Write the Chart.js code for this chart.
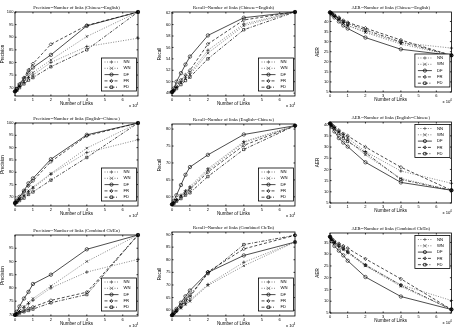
<!DOCTYPE html>
<html>
<head>
<meta charset="utf-8">
<script src="https://cdn.jsdelivr.net/npm/chart.js@4/dist/chart.umd.min.js"></script>
<style>
  html, body { margin: 0; padding: 0; background: #fff; }
  #wrap { position: relative; width: 456px; height: 330px; overflow: hidden; }
  #wrap canvas { position: absolute; }
</style>
</head>
<body>
<div id="wrap"></div>
<script>
// number of links, in units of 10^4
var LINKS = [0, 0.1, 0.25, 0.5, 0.75, 1, 2, 4, 6.85];
var SERIES = ['NN', 'WN', 'DF', 'FR', 'FD'];
var X_TICKS = [0, 1, 2, 3, 4, 5, 6];

// tick labels
var PREC_TICKS = [70, 75, 80, 85, 90, 95, 100];
var PREC_COMB_TICKS = [70, 75, 80, 85, 90, 95];
var REC_CE_TICKS = [48, 50, 52, 54, 56, 58, 60, 62];
var REC_EC_TICKS = [60, 65, 70, 75, 80];
var REC_COMB_TICKS = [60, 65, 70, 75, 80, 85, 90];
var AER_TICKS = [5, 10, 15, 20, 25, 30, 35, 40];
var AER_COMB_TICKS = [5, 10, 15, 20, 25, 30, 35];

// Chinese--English
var precCE = {
  NN: [68.5, 69, 70.5, 72, 74, 75, 80, 86.3, 89.6],
  WN: [68.5, 69, 70.5, 72.5, 74.5, 76, 81, 90.3, 100],
  DF: [68.5, 69.5, 71, 73.5, 76, 78, 83, 94.5, 100],
  FR: [68.5, 69.5, 71.5, 74, 77, 79.5, 87.2, 94.7, 100],
  FD: [68.5, 69, 70, 71.5, 73, 74, 78.3, 85, 100]
};
var recCE = {
  NN: [48.2, 48.5, 49, 50, 50.8, 51.5, 55.5, 60.1, 62.2],
  WN: [48.2, 48.4, 49, 49.8, 50.5, 51.2, 55, 59.8, 62.2],
  DF: [48.2, 48.8, 50, 51.5, 53, 54.4, 58.1, 61.2, 62.2],
  FR: [48.2, 48.5, 49.2, 50.3, 51.2, 52, 56.6, 60.8, 62.2],
  FD: [48.2, 48.4, 48.8, 49.5, 50.2, 50.8, 54, 59.1, 62.2]
};
var aerCE = {
  NN: [44.5, 43.8, 42.5, 41, 39.5, 38, 35, 29.5, 26.8],
  WN: [44.5, 43.8, 42.5, 41, 39, 38, 34.5, 28.8, 23.2],
  DF: [44.5, 43.5, 42, 40, 38, 36.5, 32, 26.2, 23.2],
  FR: [44.5, 44, 43, 42, 40.5, 39.5, 36.7, 30.8, 23.2],
  FD: [44.5, 44, 43, 41.5, 40, 39, 35.8, 29.8, 23.2]
};

// English--Chinese
var precEC = {
  NN: [67.5, 68, 69, 70.5, 72, 73.5, 79.2, 88, 93.2],
  WN: [67.5, 68, 69, 70.5, 72.5, 74, 79.5, 89.8, 100],
  DF: [67.5, 68.5, 70, 72.5, 75.5, 77.5, 85.3, 95.2, 100],
  FR: [67.5, 68.3, 69.5, 72, 74.5, 76.5, 84.3, 94.8, 100],
  FD: [67.5, 67.8, 68.5, 69.5, 71, 72, 76.8, 86, 100]
};
var recEC = {
  NN: [57.8, 58.3, 59.2, 60.5, 61.8, 63, 68.3, 76.3, 81],
  WN: [57.8, 58.2, 59, 60.3, 61.5, 62.5, 67.8, 76, 81],
  DF: [57.8, 58.8, 60.5, 63.5, 66.5, 68.8, 72.4, 78.4, 81],
  FR: [57.8, 58.2, 59, 60, 61.2, 62.2, 67.3, 75.2, 81],
  FD: [57.8, 58, 58.7, 59.5, 60.5, 61.2, 66, 74, 81]
};
var aerEC = {
  NN: [40.5, 39.8, 38.8, 37, 35.5, 34, 28, 19.3, 13.8],
  WN: [40.5, 39.5, 38.5, 36.5, 34.5, 33, 26.5, 16, 10.7],
  DF: [40.5, 39, 37, 34, 32, 30.2, 23.2, 14.2, 10.7],
  FR: [40.5, 40, 39, 37.5, 36, 35, 30, 21, 10.7],
  FD: [40.5, 39.5, 38.3, 36, 34, 32.5, 27.5, 15.5, 10.7]
};

// Combined Ch/En
var precComb = {
  NN: [69.8, 70.3, 71, 72.5, 74, 75.3, 80, 86, 90.8],
  WN: [69.8, 70.5, 71.5, 73, 74.5, 76, 80.7, 90, 100],
  DF: [69.8, 71, 73, 76, 78.5, 81.5, 85, 94.6, 100],
  FR: [69.8, 70.2, 70.8, 71.5, 72.3, 72.8, 75.3, 78.4, 100],
  FD: [69.8, 70, 70.5, 71, 71.5, 72, 74.4, 77.5, 100]
};
var recComb = {
  NN: [58, 58.5, 59.5, 61, 62.5, 64, 70.2, 79, 87],
  WN: [58, 58.5, 59.3, 60.8, 62.3, 63.5, 69.8, 77.6, 87],
  DF: [58, 59, 60.5, 63, 65.5, 67.8, 75, 81.7, 87],
  FR: [58, 58.7, 59.8, 61.5, 63.5, 65.2, 75.2, 84.3, 89.7],
  FD: [58, 58.8, 60, 62, 64, 66, 74.5, 86, 89.7]
};
var aerComb = {
  NN: [37.4, 36.3, 35, 33.5, 32.3, 31, 25.5, 17, 10.3],
  WN: [37.4, 36, 34.7, 33, 31.8, 30.5, 25, 16.3, 6.5],
  DF: [37.4, 35.5, 33.5, 31.5, 29.5, 27.2, 20.3, 12, 6.5],
  FR: [37.4, 36.5, 35.5, 34.5, 33.5, 32.5, 28, 19.5, 6.5],
  FD: [37.4, 36.3, 35, 33.8, 32.5, 31, 25.3, 16.8, 6.5]
};

var STYLE = {
  NN: { color: '#555', dash: [1, 1.5], point: 'cross' },
  WN: { color: '#555', dash: [1, 1.5], point: 'crossRot' },
  DF: { color: '#000', dash: [], point: 'circle' },
  FR: { color: '#000', dash: [3, 2], point: 'rectRot' },
  FD: { color: '#000', dash: [3, 1.5, 1, 1.5], point: 'rect' }
};

var panels = [
  { title: 'Precision--Number of links (Chinese--English)', ylab: 'Precision', data: precCE, ticks: PREC_TICKS, ymin: 66.7, ymax: 100, legend: 'br' },
  { title: 'Recall--Number of links (Chinese--English)', ylab: 'Recall', data: recCE, ticks: REC_CE_TICKS, ymin: 47.5, ymax: 62.2, legend: 'br' },
  { title: 'AER--Number of links (Chinese--English)', ylab: 'AER', data: aerCE, ticks: AER_TICKS, ymin: 5, ymax: 44.7, legend: 'br' },
  { title: 'Precision--Number of links (English--Chinese)', ylab: 'Precision', data: precEC, ticks: PREC_TICKS, ymin: 66.3, ymax: 100, legend: 'br' },
  { title: 'Recall--Number of links (English--Chinese)', ylab: 'Recall', data: recEC, ticks: REC_EC_TICKS, ymin: 57.3, ymax: 81.5, legend: 'br' },
  { title: 'AER--Number of links (English--Chinese)', ylab: 'AER', data: aerEC, ticks: AER_TICKS, ymin: 5, ymax: 41.2, legend: 'tr' },
  { title: 'Precision--Number of links (Combined Ch/En)', ylab: 'Precision', data: precComb, ticks: PREC_COMB_TICKS, ymin: 69.4, ymax: 100, legend: 'br' },
  { title: 'Recall--Number of links (Combined Ch/En)', ylab: 'Recall', data: recComb, ticks: REC_COMB_TICKS, ymin: 57.7, ymax: 91, legend: 'br' },
  { title: 'AER--Number of links (Combined Ch/En)', ylab: 'AER', data: aerComb, ticks: AER_COMB_TICKS, ymin: 5, ymax: 39, legend: 'tr' }
];

// plot box per panel inside its 152x110 cell: left, top, right, bottom
var boxes = [
  [15, 12, 138, 96], [20, 12, 143, 96], [26, 12, 148, 92],
  [15, 13, 138, 96], [20, 14, 143, 96], [26, 12, 148, 93],
  [15, 15, 138, 96], [20, 12, 143, 96], [26, 13, 148, 93]
];

var CELL_W = 152, CELL_H = 110;

function line(ctx, x1, y1, x2, y2){
  ctx.beginPath(); ctx.moveTo(x1, y1); ctx.lineTo(x2, y2); ctx.stroke();
}

function drawMarker(ctx, style, x, y, r){
  ctx.beginPath();
  if(style === 'circle'){ ctx.arc(x, y, r, 0, Math.PI * 2); }
  else if(style === 'cross'){ ctx.moveTo(x - r, y); ctx.lineTo(x + r, y); ctx.moveTo(x, y - r); ctx.lineTo(x, y + r); }
  else if(style === 'crossRot'){ ctx.moveTo(x - r, y - r); ctx.lineTo(x + r, y + r); ctx.moveTo(x - r, y + r); ctx.lineTo(x + r, y - r); }
  else if(style === 'rectRot'){ ctx.moveTo(x, y - r); ctx.lineTo(x + r, y); ctx.lineTo(x, y + r); ctx.lineTo(x - r, y); ctx.closePath(); }
  else { ctx.rect(x - r * 0.8, y - r * 0.8, r * 1.6, r * 1.6); }
  ctx.stroke();
}

var framePlugin = {
  id: 'frame',
  afterDraw: function(chart, args, opts){
    var ctx = chart.ctx, a = chart.chartArea;
    var xs = chart.scales.x, ys = chart.scales.y;
    ctx.save();
    ctx.strokeStyle = '#000';
    ctx.fillStyle = '#000';
    ctx.lineWidth = 0.8;
    ctx.setLineDash([]);
    ctx.strokeRect(a.left, a.top, a.right - a.left, a.bottom - a.top);

    // inward ticks on all sides
    xs.ticks.forEach(function(t){
      var px = xs.getPixelForValue(t.value);
      line(ctx, px, a.bottom, px, a.bottom - 1.5);
      line(ctx, px, a.top, px, a.top + 1.5);
    });
    ys.ticks.forEach(function(t){
      var py = ys.getPixelForValue(t.value);
      line(ctx, a.left, py, a.left + 1.5, py);
      line(ctx, a.right, py, a.right - 1.5, py);
    });

    // title
    ctx.font = '4.6px "Liberation Serif"';
    ctx.textAlign = 'center';
    ctx.textBaseline = 'bottom';
    ctx.fillText(opts.title, (a.left + a.right) / 2, a.top - 2);

    // axis titles
    ctx.font = '4.5px "Liberation Sans"';
    ctx.textBaseline = 'middle';
    ctx.fillText('Number of Links', (a.left + a.right) / 2, a.bottom + 8);
    ctx.save();
    ctx.translate(a.left - 12.5, (a.top + a.bottom) / 2);
    ctx.rotate(-Math.PI / 2);
    ctx.fillText(opts.ylab, 0, 0);
    ctx.restore();

    // x 10^4
    ctx.font = '4.2px "Liberation Sans"';
    ctx.textAlign = 'left';
    ctx.textBaseline = 'alphabetic';
    ctx.fillText('x 10', a.right - 9, a.bottom + 11);
    ctx.font = '3px "Liberation Sans"';
    ctx.fillText('4', a.right - 1.5, a.bottom + 8.5);

    // legend box
    var lw = 35, lh = 33;
    var lx = a.right - lw - 1.5;
    var ly = opts.legend === 'tr' ? a.top + 2.5 : a.bottom - lh - 5;
    ctx.fillStyle = '#fff';
    ctx.fillRect(lx, ly, lw, lh);
    ctx.strokeStyle = '#000';
    ctx.lineWidth = 0.8;
    ctx.strokeRect(lx, ly, lw, lh);
    ctx.font = '4.2px "Liberation Sans"';
    ctx.textBaseline = 'middle';
    SERIES.forEach(function(name, i){
      var st = STYLE[name];
      var cy = ly + 4 + i * 6.3;
      ctx.strokeStyle = st.color;
      ctx.lineWidth = 0.7;
      ctx.setLineDash(st.dash);
      line(ctx, lx + 3, cy, lx + 17, cy);
      ctx.setLineDash([]);
      drawMarker(ctx, st.point, lx + 10, cy, 1.6);
      ctx.fillStyle = '#000';
      ctx.fillText(name, lx + 22, cy);
    });
    ctx.restore();
  }
};

var wrap = document.getElementById('wrap');

panels.forEach(function(p, idx){
  var col = idx % 3, row = Math.floor(idx / 3);
  var box = boxes[idx];
  var cv = document.createElement('canvas');
  cv.width = CELL_W; cv.height = CELL_H;
  cv.style.left = (col * CELL_W) + 'px';
  cv.style.top = (row * CELL_H) + 'px';
  cv.style.width = CELL_W + 'px';
  cv.style.height = CELL_H + 'px';
  wrap.appendChild(cv);

  var datasets = SERIES.map(function(name){
    var st = STYLE[name];
    return {
      label: name,
      data: LINKS.map(function(x, i){ return { x: x, y: p.data[name][i] }; }),
      borderColor: st.color,
      borderWidth: 0.7,
      borderDash: st.dash,
      pointStyle: st.point,
      pointRadius: 1.7,
      pointBorderWidth: 0.6,
      pointBorderColor: '#000',
      pointBackgroundColor: 'rgba(0,0,0,0)',
      tension: 0,
      clip: false
    };
  });

  new Chart(cv.getContext('2d'), {
    type: 'line',
    data: { datasets: datasets },
    options: {
      responsive: false,
      animation: false,
      devicePixelRatio: 1,
      layout: { padding: { top: box[1], right: CELL_W - box[2], left: 0, bottom: 0 } },
      plugins: {
        legend: { display: false },
        tooltip: { enabled: false },
        frame: { title: p.title, ylab: p.ylab, legend: p.legend }
      },
      scales: {
        x: {
          type: 'linear',
          min: 0,
          max: 6.85,
          afterBuildTicks: function(s){ s.ticks = X_TICKS.map(function(v){ return { value: v }; }); },
          afterFit: function(s){ s.height = CELL_H - box[3]; },
          grid: { display: false, drawTicks: false },
          border: { display: false },
          ticks: { font: { size: 4, family: 'Liberation Sans' }, color: '#000', padding: 1.5, maxRotation: 0 },
          title: { display: false }
        },
        y: {
          type: 'linear',
          min: p.ymin,
          max: p.ymax,
          afterBuildTicks: function(s){ s.ticks = p.ticks.map(function(v){ return { value: v }; }); },
          afterFit: function(s){ s.width = box[0]; },
          grid: { display: false, drawTicks: false },
          border: { display: false },
          ticks: { font: { size: 4, family: 'Liberation Sans' }, color: '#000', padding: 1.5 },
          title: { display: false }
        }
      }
    },
    plugins: [framePlugin]
  });
});
</script>
</body>
</html>
